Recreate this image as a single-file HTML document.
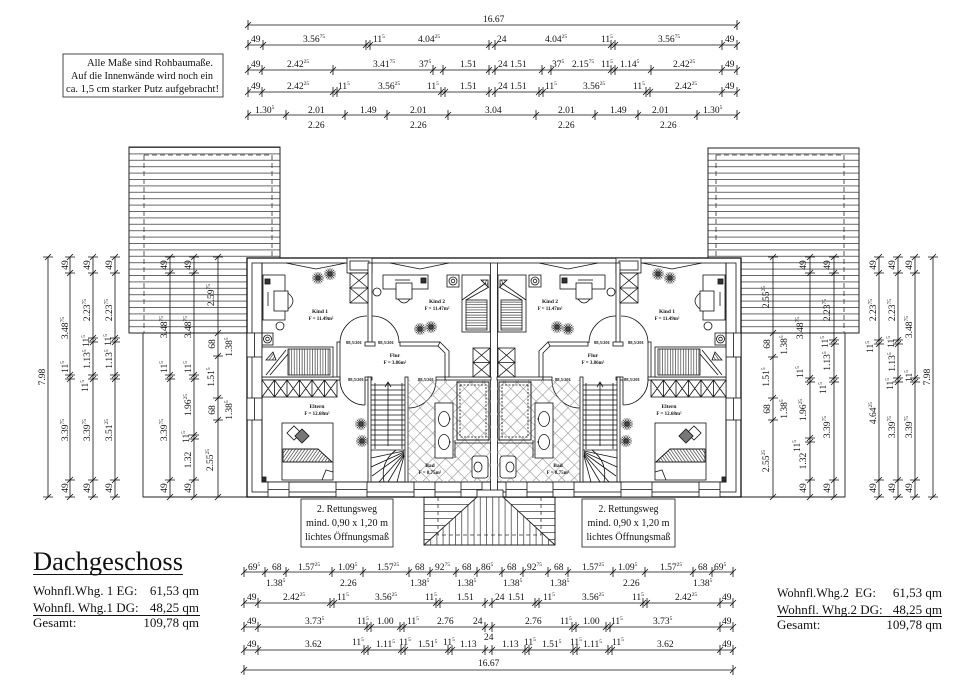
<!DOCTYPE html>
<html><head><meta charset="utf-8">
<style>
html,body{margin:0;padding:0;background:#fff;}
svg{display:block;}
.d{font-family:"Liberation Serif",serif;font-size:9.5px;fill:#111;}
.s{font-size:5.5px;}
.r{font-family:"Liberation Serif",serif;font-weight:bold;fill:#111;}
.t{font-family:"Liberation Serif",serif;fill:#111;}
</style></head><body>
<svg width="960" height="687" viewBox="0 0 960 687" xmlns="http://www.w3.org/2000/svg">
<defs>
 <path id="th" d="M0,-5V5M-3,3L3,-3" stroke="#111" stroke-width="0.8" fill="none"/>
 <path id="tv" d="M-5,0H5M-3,3L3,-3" stroke="#111" stroke-width="0.8" fill="none"/>
 <pattern id="hh" patternUnits="userSpaceOnUse" x="0" y="147" width="20" height="6.4"><line x1="0" y1="0.5" x2="20" y2="0.5" stroke="#333" stroke-width="0.8"/></pattern>
 <pattern id="tl" patternUnits="userSpaceOnUse" width="9" height="9" patternTransform="rotate(45)"><path d="M0,0.3H9M0.3,0V9" stroke="#9a9a9a" stroke-width="0.6" fill="none"/></pattern>
 <pattern id="vl" patternUnits="userSpaceOnUse" width="2.6" height="10"><line x1="0.5" y1="0" x2="0.5" y2="10" stroke="#222" stroke-width="0.6"/></pattern>
 <pattern id="hl" patternUnits="userSpaceOnUse" width="10" height="2.6"><line x1="0" y1="0.5" x2="10" y2="0.5" stroke="#222" stroke-width="0.6"/></pattern>
 <pattern id="dg" patternUnits="userSpaceOnUse" width="2.6" height="10" patternTransform="rotate(35)"><line x1="0.5" y1="0" x2="0.5" y2="10" stroke="#222" stroke-width="0.6"/></pattern>
 <pattern id="v6" patternUnits="userSpaceOnUse" x="424" width="6.2" height="10"><line x1="0.5" y1="0" x2="0.5" y2="10" stroke="#333" stroke-width="0.7"/></pattern>
 <pattern id="h7" patternUnits="userSpaceOnUse" y="497" width="10" height="7"><line x1="0" y1="0.5" x2="10" y2="0.5" stroke="#333" stroke-width="0.7"/></pattern>
 <clipPath id="tri"><polygon points="477,497 503,497 555,545 424,545"/></clipPath>
 <clipPath id="cor"><polygon points="424,497 477,497 424,545"/><polygon points="503,497 555,497 555,545"/></clipPath>
 <g id="pl" stroke="#222" stroke-width="0.7" fill="none"><path d="M-6,0H6M0,-6V6M-4.2,-4.2L4.2,4.2M-4.2,4.2L4.2,-4.2M-5.5,-2.3L5.5,2.3M-5.5,2.3L5.5,-2.3M-2.3,-5.5L2.3,5.5M2.3,-5.5L-2.3,5.5"/><circle r="2.2" fill="#444"/></g>
</defs>

<!-- ROOFS -->
<rect x="129" y="147" width="151" height="186" fill="url(#hh)" stroke="#222" stroke-width="1"/>
<path d="M144,155V333M144,155H272V258" stroke="#333" stroke-width="0.8" stroke-dasharray="5,3" fill="none"/>
<path d="M143,333V497H247" stroke="#222" stroke-width="0.9" fill="none"/>
<rect x="708" y="148" width="151" height="185" fill="url(#hh)" stroke="#222" stroke-width="1"/>
<path d="M844,155V333M716,155H844M716,155V258" stroke="#333" stroke-width="0.8" stroke-dasharray="5,3" fill="none"/>
<path d="M845,333V497H741" stroke="#222" stroke-width="0.9" fill="none"/>

<!-- BUILDING -->
<rect x="247" y="258" width="494" height="239" fill="#fff" stroke="#111" stroke-width="1.3"/>
<rect x="252" y="263" width="484" height="229" fill="none" stroke="#111" stroke-width="0.8"/>

<g id="L" fill="none" stroke="#111" stroke-width="0.8">
 <path d="M262,263V482H491" stroke-width="1"/>
 <line x1="490.5" y1="263" x2="490.5" y2="492"/>
 <rect x="247" y="333" width="15" height="24" fill="#fff"/><line x1="254.5" y1="333" x2="254.5" y2="357"/>
 <rect x="247" y="398" width="15" height="22" fill="#fff"/><line x1="254.5" y1="398" x2="254.5" y2="420"/>
 <rect x="268" y="482" width="21" height="15" fill="#fff"/>
 <rect x="336" y="482" width="31" height="15" fill="#fff"/>
 <rect x="414" y="482" width="21" height="15" fill="#fff"/>
 <rect x="461" y="482" width="21" height="15" fill="#fff"/>
 <path d="M268,489.5H289M336,489.5H367M414,489.5H435M461,489.5H482"/>
 <rect x="347" y="258" width="25" height="15" fill="#fff"/><rect x="350" y="261" width="19" height="9"/>
 <polyline points="286,263 316,269 346,263"/>
 <polyline points="390,263 420,269 449,263"/>
 <g fill="#fff">
  <rect x="368" y="263" width="4" height="80"/>
  <rect x="337" y="342" width="3" height="38"/>
  <rect x="262" y="377" width="78" height="3"/>
  <rect x="365" y="342" width="10" height="4"/>
  <rect x="400" y="342" width="40" height="4"/>
  <polygon points="440,342 449,351 449,380 445,380 445,353 438,346"/>
  <rect x="445" y="377" width="46" height="3"/>
  <rect x="365" y="377" width="7" height="3"/>
  <rect x="368" y="377" width="3" height="105"/>
  <rect x="405" y="377" width="3" height="105"/>
  <rect x="436" y="377" width="9" height="3"/>
 </g>
 <path d="M340,343A27,27 0 0 1 367,316"/>
 <path d="M399,343A27,27 0 0 0 372,316"/>
 <path d="M340,380A25,25 0 0 0 365,405M365,380V405"/>
 <path d="M436,380A28,28 0 0 1 408,408"/>
 <rect x="263" y="275" width="22" height="45" fill="#fff"/>
 <rect x="265" y="279" width="5" height="5" fill="#333"/>
 <line x1="268" y1="292" x2="268" y2="306"/>
 <rect x="274" y="291" width="14" height="20" fill="#fff"/>
 <path d="M288,293Q298,301 288,309"/>
 <circle cx="280" cy="326" r="4"/>
 <rect x="262" y="333" width="11" height="12"/>
 <circle cx="267.5" cy="339" r="4"/><circle cx="267.5" cy="339" r="1.8"/>
 <rect x="262" y="347" width="71" height="30" fill="#fff"/>
 <rect x="288" y="349" width="42" height="26" fill="url(#vl)"/>
 <path d="M266,375L286,350M270,375L288,354"/>
 <polygon points="266,360 273,352 276,360" fill="url(#dg)"/>
 <rect x="350" y="273" width="18" height="30" fill="#fff"/>
 <path d="M350,288H368M350,273L368,288M368,273L350,288M350,288L368,303M368,288L350,303"/>
 <rect x="383" y="275" width="45" height="14" fill="#fff"/>
 <rect x="421" y="278" width="5" height="5" fill="#333"/>
 <line x1="395" y1="280" x2="410" y2="280"/>
 <rect x="396" y="283" width="16" height="16" fill="#fff"/>
 <path d="M398,299Q404,307 410,299"/>
 <circle cx="377" cy="292" r="4"/>
 <rect x="447" y="275" width="12" height="12"/>
 <circle cx="453" cy="281" r="4"/><circle cx="453" cy="281" r="1.8"/>
 <rect x="462" y="275" width="28" height="57" fill="#fff"/>
 <rect x="466" y="300" width="21" height="30" fill="url(#hl)"/>
 <path d="M462,300L486,283M466,300L489,287"/>
 <polygon points="481,280 488,280 488,287" fill="url(#dg)"/>
 <rect x="473" y="348" width="17" height="29" fill="#fff"/>
 <path d="M473,362.5H490M473,348L490,362.5M490,348L473,362.5M473,362.5L490,377M490,362.5L473,377"/>
 <rect x="262" y="380" width="75" height="17" fill="#fff"/>
 <path d="M274.5,380V397M287,380V397M299.5,380V397M312,380V397M324.5,380V397
  M262,380L274.5,397M274.5,380L262,397M274.5,380L287,397M287,380L274.5,397M287,380L299.5,397M299.5,380L287,397
  M299.5,380L312,397M312,380L299.5,397M312,380L324.5,397M324.5,380L312,397M324.5,380L337,397M337,380L324.5,397"/>
 <rect x="282" y="423" width="51" height="57" fill="#fff"/>
 <rect x="-5" y="-5" width="10" height="10" transform="translate(294,433) rotate(45)" fill="#fff"/>
 <rect x="-5" y="-5" width="10" height="10" transform="translate(302,436) rotate(45)" fill="#777"/>
 <polygon points="283,449 318,449 332,462 283,462" fill="url(#dg)"/>
 <path d="M283,449H318L332,462H283M322,480L326,470L333,472"/>
 <rect x="262" y="477" width="4" height="4" fill="#333"/>
 <path d="M371,385H405M371,390H405M371,395H405M371,400H405M371,405H405M371,410H405M371,415H405M371,420H405M371,425H405M371,430H405M371,435H405M371,440H405M371,445H405"/>
 <path d="M375,383V449M402,383V449"/>
 <path d="M388,446V382M385,387L388,382L391,387"/>
 <path d="M371,450H405M404,451L371,458M404,452L371,467M404,453L372,476M404,454L379,482M404,455L388,482M404,456L397,482M396,450Q380,462 384,482"/>
 <rect x="408" y="380" width="83" height="102" fill="url(#tl)" stroke="none"/>
 <rect x="457" y="382" width="32" height="58" fill="#fff"/>
 <rect x="457" y="382" width="32" height="58" fill="url(#tl)"/>
 <rect x="460" y="385" width="26" height="52" stroke-dasharray="2,1.5"/>
 <rect x="435" y="403" width="18" height="55" fill="#fff"/>
 <ellipse cx="444" cy="419" rx="5.5" ry="7.5"/><ellipse cx="444" cy="442" rx="5.5" ry="7.5"/>
 <path d="M449,419h2M449,442h2"/>
 <path d="M455,443H491M455,440V458"/>
 <rect x="472" y="456" width="16" height="22" rx="3" fill="#fff"/>
 <ellipse cx="478" cy="467" rx="4" ry="5"/>
 <use href="#pl" x="318" y="278"/><use href="#pl" x="330" y="274"/>
 <use href="#pl" x="420" y="329"/><use href="#pl" x="431" y="327"/>
 <use href="#pl" x="361" y="424"/><use href="#pl" x="362" y="441"/>
</g>
<use href="#L" transform="matrix(-1,0,0,1,988,0)"/>
<rect x="477" y="490" width="26" height="7" fill="#fff" stroke="#111" stroke-width="0.8"/>

<!-- ROOM LABELS -->
<g class="r" text-anchor="middle">
 <text x="320" y="313" font-size="5.5">Kind 1</text><text x="321" y="320" font-size="5">F = 11.49m²</text>
 <text x="437" y="303" font-size="5.5">Kind 2</text><text x="437" y="310" font-size="5">F = 11.47m²</text>
 <text x="395" y="357" font-size="5.5">Flur</text><text x="395" y="364" font-size="5">F = 3.86m²</text>
 <text x="317" y="408" font-size="5.5">Eltern</text><text x="317" y="415" font-size="5">F = 12.68m²</text>
 <text x="430" y="467" font-size="5.5">Bad</text><text x="430" y="474" font-size="5">F = 8.75m²</text>
 <text x="550" y="303" font-size="5.5">Kind 2</text><text x="550" y="310" font-size="5">F = 11.47m²</text>
 <text x="667" y="313" font-size="5.5">Kind 1</text><text x="667" y="320" font-size="5">F = 11.49m²</text>
 <text x="593" y="357" font-size="5.5">Flur</text><text x="593" y="364" font-size="5">F = 3.86m²</text>
 <text x="669" y="408" font-size="5.5">Eltern</text><text x="669" y="415" font-size="5">F = 12.68m²</text>
 <text x="558" y="467" font-size="5.5">Bad</text><text x="558" y="474" font-size="5">F = 8.75m²</text>
 <g font-size="4.5">
  <text x="354" y="344">88,5/201</text><text x="386" y="344">88,5/201</text>
  <text x="356" y="381">88,5/201</text><text x="426" y="381">88,5/201</text>
  <text x="602" y="344">88,5/201</text><text x="636" y="344">88,5/201</text>
  <text x="563" y="381">88,5/201</text><text x="632" y="381">88,5/201</text>
 </g>
</g>

<!-- ENTRANCE -->
<rect x="424" y="497" width="131" height="48" fill="#fff" stroke="#222" stroke-width="0.9"/>
<g clip-path="url(#tri)"><rect x="424" y="497" width="131" height="48" fill="url(#v6)"/></g>
<g clip-path="url(#cor)"><rect x="424" y="497" width="131" height="48" fill="url(#h7)"/></g>
<path d="M424,545L477,497M503,497L555,545" stroke="#222" stroke-width="0.9"/>
<path d="M438,497V535H541V497" stroke="#333" stroke-width="0.8" stroke-dasharray="4,3" fill="none"/>
<rect x="424" y="497" width="131" height="48" fill="none" stroke="#222" stroke-width="0.9"/>

<!-- RETTUNGSWEG -->
<rect x="301" y="499" width="92" height="48" fill="#fff" stroke="#333" stroke-width="0.9"/>
<g class="t" font-size="10.5" text-anchor="middle">
 <text x="347" y="512" textLength="60" lengthAdjust="spacingAndGlyphs">2. Rettungsweg</text>
 <text x="347" y="526" textLength="82" lengthAdjust="spacingAndGlyphs">mind. 0,90 x 1,20 m</text>
 <text x="347" y="540" textLength="84" lengthAdjust="spacingAndGlyphs">lichtes Öffnungsmaß</text>
</g>
<rect x="582" y="499" width="93" height="48" fill="#fff" stroke="#333" stroke-width="0.9"/>
<g class="t" font-size="10.5" text-anchor="middle">
 <text x="628.5" y="512" textLength="60" lengthAdjust="spacingAndGlyphs">2. Rettungsweg</text>
 <text x="628.5" y="526" textLength="82" lengthAdjust="spacingAndGlyphs">mind. 0,90 x 1,20 m</text>
 <text x="628.5" y="540" textLength="84" lengthAdjust="spacingAndGlyphs">lichtes Öffnungsmaß</text>
</g>

<!-- NOTE BOX -->
<rect x="63" y="54" width="160" height="43" fill="#fff" stroke="#333" stroke-width="0.9"/>
<g class="t" font-size="10.5">
 <text x="87" y="66" textLength="126" lengthAdjust="spacingAndGlyphs">Alle Maße sind Rohbaumaße.</text>
 <text x="71" y="79" textLength="142" lengthAdjust="spacingAndGlyphs">Auf die Innenwände wird noch ein</text>
 <text x="66" y="92" textLength="153" lengthAdjust="spacingAndGlyphs">ca. 1,5 cm starker Putz aufgebracht!</text>
</g>

<!-- DIMENSION LINES -->
<g stroke="#111" stroke-width="0.8" fill="none">
<path d="M248,25H737M248,45H737M248,70H737M248,92H737M248,115H737M244,572H733M244,603H733M244,627H733M244,650H733M244,670H733"/>
<path d="M48,257V497M70,257V497M93,257V497M115,257V497M170,257V497M194,257V497M218,257V497M773,257V497M810,257V497M834,257V497M879,257V497M898,257V497M915,257V497M933,257V497"/>
</g>
<g>
<use href="#th" x="248" y="25"/><use href="#th" x="737" y="25"/>
<use href="#th" x="248" y="45"/><use href="#th" x="263" y="45"/><use href="#th" x="366" y="45"/><use href="#th" x="370" y="45"/><use href="#th" x="489" y="45"/><use href="#th" x="495" y="45"/><use href="#th" x="611" y="45"/><use href="#th" x="615" y="45"/><use href="#th" x="722" y="45"/><use href="#th" x="737" y="45"/>
<use href="#th" x="248" y="70"/><use href="#th" x="262" y="70"/><use href="#th" x="333" y="70"/><use href="#th" x="433" y="70"/><use href="#th" x="443" y="70"/><use href="#th" x="489" y="70"/><use href="#th" x="495" y="70"/><use href="#th" x="542" y="70"/><use href="#th" x="551" y="70"/><use href="#th" x="611" y="70"/><use href="#th" x="615" y="70"/><use href="#th" x="651" y="70"/><use href="#th" x="722" y="70"/><use href="#th" x="737" y="70"/>
<use href="#th" x="248" y="92"/><use href="#th" x="262" y="92"/><use href="#th" x="333" y="92"/><use href="#th" x="337" y="92"/><use href="#th" x="441" y="92"/><use href="#th" x="445" y="92"/><use href="#th" x="489" y="92"/><use href="#th" x="495" y="92"/><use href="#th" x="539" y="92"/><use href="#th" x="543" y="92"/><use href="#th" x="646" y="92"/><use href="#th" x="650" y="92"/><use href="#th" x="722" y="92"/><use href="#th" x="737" y="92"/>
<use href="#th" x="248" y="115"/><use href="#th" x="286" y="115"/><use href="#th" x="345" y="115"/><use href="#th" x="387" y="115"/><use href="#th" x="448" y="115"/><use href="#th" x="536" y="115"/><use href="#th" x="595" y="115"/><use href="#th" x="638" y="115"/><use href="#th" x="697" y="115"/><use href="#th" x="737" y="115"/>
<use href="#th" x="244" y="572"/><use href="#th" x="265" y="572"/><use href="#th" x="286" y="572"/><use href="#th" x="332" y="572"/><use href="#th" x="363" y="572"/><use href="#th" x="409" y="572"/><use href="#th" x="430" y="572"/><use href="#th" x="456" y="572"/><use href="#th" x="477" y="572"/><use href="#th" x="502" y="572"/><use href="#th" x="523" y="572"/><use href="#th" x="548" y="572"/><use href="#th" x="568" y="572"/><use href="#th" x="613" y="572"/><use href="#th" x="645" y="572"/><use href="#th" x="693" y="572"/><use href="#th" x="712" y="572"/><use href="#th" x="733" y="572"/>
<use href="#th" x="244" y="603"/><use href="#th" x="258" y="603"/><use href="#th" x="330" y="603"/><use href="#th" x="334" y="603"/><use href="#th" x="436" y="603"/><use href="#th" x="440" y="603"/><use href="#th" x="485" y="603"/><use href="#th" x="492" y="603"/><use href="#th" x="535" y="603"/><use href="#th" x="539" y="603"/><use href="#th" x="643" y="603"/><use href="#th" x="647" y="603"/><use href="#th" x="720" y="603"/><use href="#th" x="733" y="603"/>
<use href="#th" x="244" y="627"/><use href="#th" x="258" y="627"/><use href="#th" x="367" y="627"/><use href="#th" x="371" y="627"/><use href="#th" x="400" y="627"/><use href="#th" x="404" y="627"/><use href="#th" x="485" y="627"/><use href="#th" x="492" y="627"/><use href="#th" x="572" y="627"/><use href="#th" x="576" y="627"/><use href="#th" x="606" y="627"/><use href="#th" x="610" y="627"/><use href="#th" x="720" y="627"/><use href="#th" x="733" y="627"/>
<use href="#th" x="244" y="650"/><use href="#th" x="258" y="650"/><use href="#th" x="364" y="650"/><use href="#th" x="368" y="650"/><use href="#th" x="401" y="650"/><use href="#th" x="405" y="650"/><use href="#th" x="448" y="650"/><use href="#th" x="452" y="650"/><use href="#th" x="485" y="650"/><use href="#th" x="492" y="650"/><use href="#th" x="525" y="650"/><use href="#th" x="529" y="650"/><use href="#th" x="573" y="650"/><use href="#th" x="577" y="650"/><use href="#th" x="608" y="650"/><use href="#th" x="612" y="650"/><use href="#th" x="720" y="650"/><use href="#th" x="733" y="650"/>
<use href="#th" x="244" y="670"/><use href="#th" x="733" y="670"/>

<use href="#tv" x="48" y="257"/><use href="#tv" x="48" y="497"/>
<use href="#tv" x="70" y="257"/><use href="#tv" x="70" y="273"/><use href="#tv" x="70" y="375"/><use href="#tv" x="70" y="379"/><use href="#tv" x="70" y="480"/><use href="#tv" x="70" y="497"/>
<use href="#tv" x="93" y="257"/><use href="#tv" x="93" y="273"/><use href="#tv" x="93" y="338"/><use href="#tv" x="93" y="342"/><use href="#tv" x="93" y="375"/><use href="#tv" x="93" y="379"/><use href="#tv" x="93" y="480"/><use href="#tv" x="93" y="497"/>
<use href="#tv" x="115" y="257"/><use href="#tv" x="115" y="273"/><use href="#tv" x="115" y="338"/><use href="#tv" x="115" y="342"/><use href="#tv" x="115" y="375"/><use href="#tv" x="115" y="379"/><use href="#tv" x="115" y="480"/><use href="#tv" x="115" y="497"/>
<use href="#tv" x="170" y="257"/><use href="#tv" x="170" y="273"/><use href="#tv" x="170" y="375"/><use href="#tv" x="170" y="379"/><use href="#tv" x="170" y="480"/><use href="#tv" x="170" y="497"/>
<use href="#tv" x="194" y="257"/><use href="#tv" x="194" y="273"/><use href="#tv" x="194" y="375"/><use href="#tv" x="194" y="379"/><use href="#tv" x="194" y="435"/><use href="#tv" x="194" y="439"/><use href="#tv" x="194" y="480"/><use href="#tv" x="194" y="497"/>
<use href="#tv" x="218" y="257"/><use href="#tv" x="218" y="333"/><use href="#tv" x="218" y="356"/><use href="#tv" x="218" y="398"/><use href="#tv" x="218" y="420"/><use href="#tv" x="218" y="497"/>
<use href="#tv" x="773" y="257"/><use href="#tv" x="773" y="333"/><use href="#tv" x="773" y="357"/><use href="#tv" x="773" y="398"/><use href="#tv" x="773" y="420"/><use href="#tv" x="773" y="497"/>
<use href="#tv" x="810" y="257"/><use href="#tv" x="810" y="273"/><use href="#tv" x="810" y="378"/><use href="#tv" x="810" y="382"/><use href="#tv" x="810" y="438"/><use href="#tv" x="810" y="442"/><use href="#tv" x="810" y="480"/><use href="#tv" x="810" y="497"/>
<use href="#tv" x="834" y="257"/><use href="#tv" x="834" y="273"/><use href="#tv" x="834" y="340"/><use href="#tv" x="834" y="344"/><use href="#tv" x="834" y="378"/><use href="#tv" x="834" y="382"/><use href="#tv" x="834" y="480"/><use href="#tv" x="834" y="497"/>
<use href="#tv" x="879" y="257"/><use href="#tv" x="879" y="273"/><use href="#tv" x="879" y="340"/><use href="#tv" x="879" y="344"/><use href="#tv" x="879" y="480"/><use href="#tv" x="879" y="497"/>
<use href="#tv" x="898" y="257"/><use href="#tv" x="898" y="273"/><use href="#tv" x="898" y="340"/><use href="#tv" x="898" y="344"/><use href="#tv" x="898" y="378"/><use href="#tv" x="898" y="382"/><use href="#tv" x="898" y="480"/><use href="#tv" x="898" y="497"/>
<use href="#tv" x="915" y="257"/><use href="#tv" x="915" y="273"/><use href="#tv" x="915" y="378"/><use href="#tv" x="915" y="382"/><use href="#tv" x="915" y="480"/><use href="#tv" x="915" y="497"/>
<use href="#tv" x="933" y="257"/><use href="#tv" x="933" y="497"/>
</g>

<!-- TOP DIMENSION TEXT -->
<g class="d">
<text x="483" y="22">16.67</text>
<text x="251" y="42">49</text><text x="303" y="42">3.56<tspan class="s" dy="-4">75</tspan></text><text x="373" y="42">11<tspan class="s" dy="-4">5</tspan></text><text x="418" y="42">4.04<tspan class="s" dy="-4">25</tspan></text><text x="497" y="42">24</text><text x="545" y="42">4.04<tspan class="s" dy="-4">25</tspan></text><text x="601" y="42">11<tspan class="s" dy="-4">5</tspan></text><text x="658" y="42">3.56<tspan class="s" dy="-4">75</tspan></text><text x="725" y="42">49</text>
<text x="251" y="67">49</text><text x="287" y="67">2.42<tspan class="s" dy="-4">25</tspan></text><text x="373" y="67">3.41<tspan class="s" dy="-4">75</tspan></text><text x="419" y="67">37<tspan class="s" dy="-4">5</tspan></text><text x="460" y="67">1.51</text><text x="498" y="67">24</text><text x="510" y="67">1.51</text><text x="552" y="67">37<tspan class="s" dy="-4">5</tspan></text><text x="572" y="67">2.15<tspan class="s" dy="-4">75</tspan></text><text x="601" y="67">11<tspan class="s" dy="-4">5</tspan></text><text x="620" y="67">1.14<tspan class="s" dy="-4">5</tspan></text><text x="673" y="67">2.42<tspan class="s" dy="-4">25</tspan></text><text x="725" y="67">49</text>
<text x="251" y="89">49</text><text x="287" y="89">2.42<tspan class="s" dy="-4">25</tspan></text><text x="338" y="89">11<tspan class="s" dy="-4">5</tspan></text><text x="378" y="89">3.56<tspan class="s" dy="-4">25</tspan></text><text x="427" y="89">11<tspan class="s" dy="-4">5</tspan></text><text x="460" y="89">1.51</text><text x="498" y="89">24</text><text x="510" y="89">1.51</text><text x="545" y="89">11<tspan class="s" dy="-4">5</tspan></text><text x="583" y="89">3.56<tspan class="s" dy="-4">25</tspan></text><text x="633" y="89">11<tspan class="s" dy="-4">5</tspan></text><text x="675" y="89">2.42<tspan class="s" dy="-4">25</tspan></text><text x="725" y="89">49</text>
<text x="255" y="113">1.30<tspan class="s" dy="-4">5</tspan></text><text x="308" y="113">2.01</text><text x="360" y="113">1.49</text><text x="410" y="113">2.01</text><text x="485" y="113">3.04</text><text x="558" y="113">2.01</text><text x="610" y="113">1.49</text><text x="652" y="113">2.01</text><text x="703" y="113">1.30<tspan class="s" dy="-4">5</tspan></text>
<text x="308" y="128">2.26</text><text x="410" y="128">2.26</text><text x="558" y="128">2.26</text><text x="660" y="128">2.26</text>
</g>

<!-- BOTTOM DIMENSION TEXT -->
<g class="d">
<text x="248" y="570">69<tspan class="s" dy="-4">5</tspan></text><text x="272" y="570">68</text><text x="298" y="570">1.57<tspan class="s" dy="-4">25</tspan></text><text x="338" y="570">1.09<tspan class="s" dy="-4">5</tspan></text><text x="377" y="570">1.57<tspan class="s" dy="-4">25</tspan></text><text x="415" y="570">68</text><text x="435" y="570">92<tspan class="s" dy="-4">75</tspan></text><text x="462" y="570">68</text><text x="481" y="570">86<tspan class="s" dy="-4">5</tspan></text><text x="507" y="570">68</text><text x="527" y="570">92<tspan class="s" dy="-4">75</tspan></text><text x="554" y="570">68</text><text x="582" y="570">1.57<tspan class="s" dy="-4">25</tspan></text><text x="618" y="570">1.09<tspan class="s" dy="-4">5</tspan></text><text x="660" y="570">1.57<tspan class="s" dy="-4">25</tspan></text><text x="698" y="570">68</text><text x="714" y="570">69<tspan class="s" dy="-4">5</tspan></text>
<text x="266" y="586">1.38<tspan class="s" dy="-4">5</tspan></text><text x="340" y="586">2.26</text><text x="410" y="586">1.38<tspan class="s" dy="-4">5</tspan></text><text x="457" y="586">1.38<tspan class="s" dy="-4">5</tspan></text><text x="503" y="586">1.38<tspan class="s" dy="-4">5</tspan></text><text x="550" y="586">1.38<tspan class="s" dy="-4">5</tspan></text><text x="623" y="586">2.26</text><text x="693" y="586">1.38<tspan class="s" dy="-4">5</tspan></text>
<text x="247" y="600">49</text><text x="283" y="600">2.42<tspan class="s" dy="-4">25</tspan></text><text x="337" y="600">11<tspan class="s" dy="-4">5</tspan></text><text x="375" y="600">3.56<tspan class="s" dy="-4">25</tspan></text><text x="425" y="600">11<tspan class="s" dy="-4">5</tspan></text><text x="457" y="600">1.51</text><text x="495" y="600">24</text><text x="508" y="600">1.51</text><text x="543" y="600">11<tspan class="s" dy="-4">5</tspan></text><text x="582" y="600">3.56<tspan class="s" dy="-4">25</tspan></text><text x="632" y="600">11<tspan class="s" dy="-4">5</tspan></text><text x="675" y="600">2.42<tspan class="s" dy="-4">25</tspan></text><text x="722" y="600">49</text>
<text x="247" y="624">49</text><text x="305" y="624">3.73<tspan class="s" dy="-4">5</tspan></text><text x="357" y="624">11<tspan class="s" dy="-4">5</tspan></text><text x="377" y="624">1.00</text><text x="407" y="624">11<tspan class="s" dy="-4">5</tspan></text><text x="437" y="624">2.76</text><text x="473" y="624">24</text><text x="525" y="624">2.76</text><text x="560" y="624">11<tspan class="s" dy="-4">5</tspan></text><text x="583" y="624">1.00</text><text x="611" y="624">11<tspan class="s" dy="-4">5</tspan></text><text x="653" y="624">3.73<tspan class="s" dy="-4">5</tspan></text><text x="722" y="624">49</text>
<text x="247" y="647">49</text><text x="305" y="647">3.62</text><text x="352" y="645">11<tspan class="s" dy="-4">5</tspan></text><text x="376" y="647">1.11<tspan class="s" dy="-4">5</tspan></text><text x="399" y="645">11<tspan class="s" dy="-4">5</tspan></text><text x="418" y="647">1.51<tspan class="s" dy="-4">5</tspan></text><text x="443" y="645">11<tspan class="s" dy="-4">5</tspan></text><text x="460" y="647">1.13</text><text x="484" y="640">24</text><text x="502" y="647">1.13</text><text x="524" y="645">11<tspan class="s" dy="-4">5</tspan></text><text x="542" y="647">1.51<tspan class="s" dy="-4">5</tspan></text><text x="570" y="645">11<tspan class="s" dy="-4">5</tspan></text><text x="583" y="647">1.11<tspan class="s" dy="-4">5</tspan></text><text x="612" y="645">11<tspan class="s" dy="-4">5</tspan></text><text x="657" y="647">3.62</text><text x="722" y="647">49</text>
<text x="478" y="666">16.67</text>
</g>

<!-- VERTICAL DIMENSION TEXT LEFT -->
<g class="d" text-anchor="middle">
<text transform="translate(45,377) rotate(-90)">7.98</text>
<text transform="translate(68,265) rotate(-90)">49</text>
<text transform="translate(68,328) rotate(-90)">3.48<tspan class="s" dy="-4">75</tspan></text>
<text transform="translate(68,367) rotate(-90)">11<tspan class="s" dy="-4">5</tspan></text>
<text transform="translate(68,430) rotate(-90)">3.39<tspan class="s" dy="-4">75</tspan></text>
<text transform="translate(68,488) rotate(-90)">49</text>
<text transform="translate(90,265) rotate(-90)">49</text>
<text transform="translate(90,310) rotate(-90)">2.23<tspan class="s" dy="-4">75</tspan></text>
<text transform="translate(89,341) rotate(-90)">11<tspan class="s" dy="-4">5</tspan></text>
<text transform="translate(90,359) rotate(-90)">1.13<tspan class="s" dy="-4">5</tspan></text>
<text transform="translate(88,386) rotate(-90)">11<tspan class="s" dy="-4">5</tspan></text>
<text transform="translate(90,430) rotate(-90)">3.39<tspan class="s" dy="-4">75</tspan></text>
<text transform="translate(90,488) rotate(-90)">49</text>
<text transform="translate(112,265) rotate(-90)">49</text>
<text transform="translate(112,310) rotate(-90)">2.23<tspan class="s" dy="-4">75</tspan></text>
<text transform="translate(111,340) rotate(-90)">11<tspan class="s" dy="-4">5</tspan></text>
<text transform="translate(112,359) rotate(-90)">1.13<tspan class="s" dy="-4">5</tspan></text>
<text transform="translate(112,430) rotate(-90)">3.51<tspan class="s" dy="-4">25</tspan></text>
<text transform="translate(112,488) rotate(-90)">49</text>
<text transform="translate(167,265) rotate(-90)">49</text>
<text transform="translate(167,327) rotate(-90)">3.48<tspan class="s" dy="-4">75</tspan></text>
<text transform="translate(167,367) rotate(-90)">11<tspan class="s" dy="-4">5</tspan></text>
<text transform="translate(167,430) rotate(-90)">3.39<tspan class="s" dy="-4">75</tspan></text>
<text transform="translate(167,488) rotate(-90)">49</text>
<text transform="translate(191,265) rotate(-90)">49</text>
<text transform="translate(191,327) rotate(-90)">3.48<tspan class="s" dy="-4">75</tspan></text>
<text transform="translate(191,367) rotate(-90)">11<tspan class="s" dy="-4">5</tspan></text>
<text transform="translate(191,405) rotate(-90)">1.96<tspan class="s" dy="-4">25</tspan></text>
<text transform="translate(189,437) rotate(-90)">11<tspan class="s" dy="-4">5</tspan></text>
<text transform="translate(191,460) rotate(-90)">1.32</text>
<text transform="translate(191,488) rotate(-90)">49</text>
<text transform="translate(214,295) rotate(-90)">2.59<tspan class="s" dy="-4">75</tspan></text>
<text transform="translate(215,344) rotate(-90)">68</text>
<text transform="translate(214,377) rotate(-90)">1.51<tspan class="s" dy="-4">5</tspan></text>
<text transform="translate(215,410) rotate(-90)">68</text>
<text transform="translate(213,460) rotate(-90)">2.55<tspan class="s" dy="-4">25</tspan></text>
<text transform="translate(232,347) rotate(-90)">1.38<tspan class="s" dy="-4">5</tspan></text>
<text transform="translate(232,410) rotate(-90)">1.38<tspan class="s" dy="-4">5</tspan></text>
</g>

<!-- VERTICAL DIMENSION TEXT RIGHT -->
<g class="d" text-anchor="middle">
<text transform="translate(769,297) rotate(-90)">2.55<tspan class="s" dy="-4">25</tspan></text>
<text transform="translate(770,344) rotate(-90)">68</text>
<text transform="translate(769,377) rotate(-90)">1.51<tspan class="s" dy="-4">5</tspan></text>
<text transform="translate(770,409) rotate(-90)">68</text>
<text transform="translate(769,461) rotate(-90)">2.55<tspan class="s" dy="-4">25</tspan></text>
<text transform="translate(787,345) rotate(-90)">1.38<tspan class="s" dy="-4">5</tspan></text>
<text transform="translate(787,409) rotate(-90)">1.38<tspan class="s" dy="-4">5</tspan></text>
<text transform="translate(806,265) rotate(-90)">49</text>
<text transform="translate(803,328) rotate(-90)">3.48<tspan class="s" dy="-4">75</tspan></text>
<text transform="translate(803,372) rotate(-90)">11<tspan class="s" dy="-4">5</tspan></text>
<text transform="translate(806,410) rotate(-90)">1.96<tspan class="s" dy="-4">25</tspan></text>
<text transform="translate(800,446) rotate(-90)">11<tspan class="s" dy="-4">5</tspan></text>
<text transform="translate(806,461) rotate(-90)">1.32</text>
<text transform="translate(806,488) rotate(-90)">49</text>
<text transform="translate(830,265) rotate(-90)">49</text>
<text transform="translate(830,310) rotate(-90)">2.23<tspan class="s" dy="-4">75</tspan></text>
<text transform="translate(828,342) rotate(-90)">11<tspan class="s" dy="-4">5</tspan></text>
<text transform="translate(830,361) rotate(-90)">1.13<tspan class="s" dy="-4">5</tspan></text>
<text transform="translate(826,388) rotate(-90)">11<tspan class="s" dy="-4">5</tspan></text>
<text transform="translate(830,427) rotate(-90)">3.39<tspan class="s" dy="-4">75</tspan></text>
<text transform="translate(830,488) rotate(-90)">49</text>
<text transform="translate(876,265) rotate(-90)">49</text>
<text transform="translate(876,310) rotate(-90)">2.23<tspan class="s" dy="-4">75</tspan></text>
<text transform="translate(873,347) rotate(-90)">11<tspan class="s" dy="-4">5</tspan></text>
<text transform="translate(876,413) rotate(-90)">4.64<tspan class="s" dy="-4">25</tspan></text>
<text transform="translate(876,488) rotate(-90)">49</text>
<text transform="translate(895,265) rotate(-90)">49</text>
<text transform="translate(895,310) rotate(-90)">2.23<tspan class="s" dy="-4">75</tspan></text>
<text transform="translate(894,342) rotate(-90)">11<tspan class="s" dy="-4">5</tspan></text>
<text transform="translate(895,362) rotate(-90)">1.13<tspan class="s" dy="-4">5</tspan></text>
<text transform="translate(893,384) rotate(-90)">11<tspan class="s" dy="-4">5</tspan></text>
<text transform="translate(895,427) rotate(-90)">3.39<tspan class="s" dy="-4">75</tspan></text>
<text transform="translate(895,488) rotate(-90)">49</text>
<text transform="translate(912,265) rotate(-90)">49</text>
<text transform="translate(912,327) rotate(-90)">3.48<tspan class="s" dy="-4">75</tspan></text>
<text transform="translate(912,376) rotate(-90)">11<tspan class="s" dy="-4">5</tspan></text>
<text transform="translate(912,427) rotate(-90)">3.39<tspan class="s" dy="-4">75</tspan></text>
<text transform="translate(912,488) rotate(-90)">49</text>
<text transform="translate(930,377) rotate(-90)">7.98</text>
</g>

<!-- TITLE & AREAS -->
<text class="t" x="33" y="570" font-size="26" textLength="150" lengthAdjust="spacingAndGlyphs">Dachgeschoss</text>
<line x1="33" y1="574.5" x2="183" y2="574.5" stroke="#111" stroke-width="1"/>
<g class="t" font-size="13">
 <text x="33" y="595">Wohnfl.Whg. 1 EG:</text><text x="199" y="595" text-anchor="end">61,53 qm</text>
 <text x="33" y="612">Wohnfl. Whg.1 DG:</text><text x="199" y="612" text-anchor="end">48,25 qm</text>
 <text x="33" y="627">Gesamt:</text><text x="199" y="627" text-anchor="end">109,78 qm</text>
 <text x="777" y="597" textLength="72" lengthAdjust="spacingAndGlyphs">Wohnfl.Whg.2</text><text x="855" y="597">EG:</text><text x="942" y="597" text-anchor="end">61,53 qm</text>
 <text x="777" y="614">Wohnfl. Whg.2 DG:</text><text x="942" y="614" text-anchor="end">48,25 qm</text>
 <text x="777" y="629">Gesamt:</text><text x="942" y="629" text-anchor="end">109,78 qm</text>
</g>
<line x1="33" y1="615.5" x2="200" y2="615.5" stroke="#111" stroke-width="0.9"/>
<line x1="777" y1="616.5" x2="942" y2="616.5" stroke="#111" stroke-width="0.9"/>
</svg>
</body></html>
